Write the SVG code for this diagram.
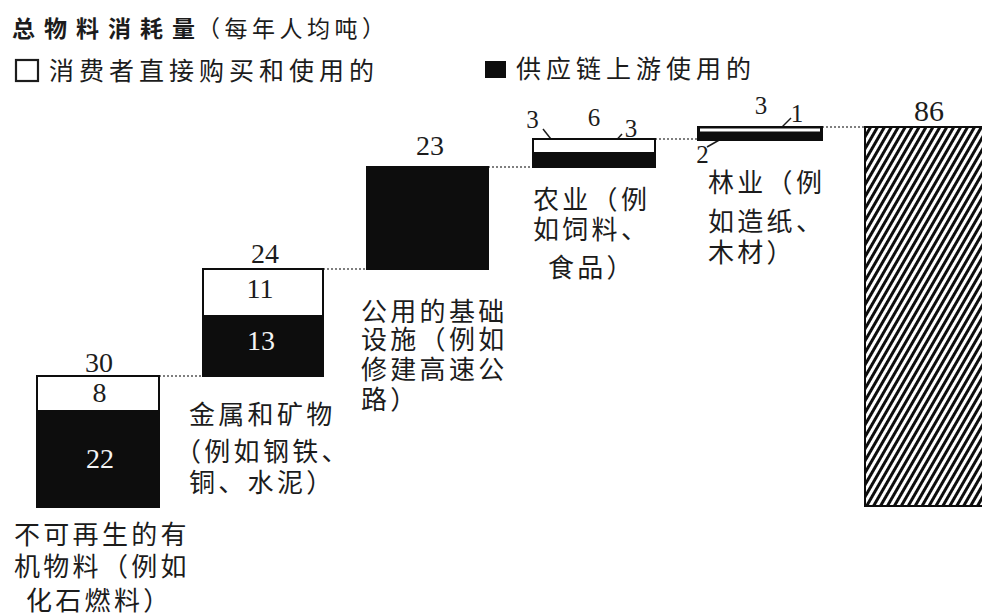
<svg xmlns="http://www.w3.org/2000/svg" width="982" height="616" viewBox="0 0 982 616">
<defs>
<style>
.cj{font-family:"Noto Sans CJK SC","Noto Sans",sans-serif;fill:#1c1c1c}
.lb{font-size:26px;letter-spacing:3.3px}
.num{font-family:"Liberation Serif","Times New Roman",serif;fill:#1c1c1c;text-anchor:middle}
.big{font-size:28px}
.sm{font-size:25px}
.wh{fill:#f4f4f4}
.blk{fill:#0d0d0d;stroke:#0d0d0d;stroke-width:2}
.wht{fill:#ffffff;stroke:#0d0d0d;stroke-width:2}
.dot{stroke:#555;stroke-width:1.3;stroke-dasharray:2 2;fill:none}
.lead{stroke:#1c1c1c;stroke-width:1.5;fill:none}
</style>
<pattern id="hatch" patternUnits="userSpaceOnUse" width="6" height="12" patternTransform="rotate(30)">
<rect x="0" y="0" width="6" height="12" fill="#ffffff"/>
<rect x="0" y="0" width="3" height="12" fill="#0d0d0d"/>
</pattern>
</defs>
<rect width="982" height="616" fill="#ffffff"/>

<g id="title">
<text class="cj" x="12" y="37" font-size="23"><tspan font-weight="bold" letter-spacing="9">总物料消耗量</tspan><tspan x="197" letter-spacing="4.5">（每年人均吨）</tspan></text>
</g>

<g id="legend">
<rect x="16" y="60" width="22" height="21" fill="#fff" stroke="#1c1c1c" stroke-width="2.2"/>
<text class="cj" x="49" y="80" font-size="25" letter-spacing="5">消费者直接购买和使用的</text>
<rect x="485" y="61" width="21" height="17" fill="#0d0d0d"/>
<text class="cj" x="516" y="78" font-size="25" letter-spacing="5">供应链上游使用的</text>
</g>

<g id="connectors">
<line class="dot" x1="159" y1="376" x2="203" y2="376"/>
<line class="dot" x1="323" y1="269" x2="367" y2="269"/>
<line class="dot" x1="488" y1="167" x2="533" y2="167"/>
<line class="dot" x1="655" y1="139" x2="698" y2="139"/>
<line class="dot" x1="822" y1="127" x2="865" y2="127"/>
<line class="lead" x1="543" y1="129" x2="562" y2="153"/>
<line class="lead" x1="611" y1="146" x2="622" y2="134"/>
<line class="lead" x1="780" y1="129" x2="791" y2="118"/>
<line class="lead" x1="707" y1="147" x2="721" y2="139"/>
</g>

<g id="bar-fossil">
<rect class="wht" x="37" y="376" width="122" height="35"/>
<rect class="blk" x="37" y="411" width="122" height="96"/>
<text class="num big" x="99" y="372">30</text>
<text class="num big" x="99.5" y="402">8</text>
<text class="num big wh" x="100" y="468">22</text>
<text class="cj lb" x="14" y="544">不可再生的有</text>
<text class="cj lb" x="14" y="576">机物料（例如</text>
<text class="cj lb" x="26" y="610">化石燃料）</text>
</g>

<g id="bar-metals">
<rect class="wht" x="203" y="269" width="120" height="47"/>
<rect class="blk" x="203" y="316" width="120" height="60"/>
<text class="num big" x="265" y="263">24</text>
<text class="num big" x="260" y="298">11</text>
<text class="num big wh" x="261" y="350">13</text>
<text class="cj lb" x="189" y="424">金属和矿物</text>
<text class="cj lb" x="175" y="461">（例如钢铁、</text>
<text class="cj lb" x="189" y="492">铜、水泥）</text>
</g>

<g id="bar-infra">
<rect class="blk" x="367" y="167" width="121" height="102"/>
<text class="num big" x="430" y="155">23</text>
<text class="cj lb" x="361" y="321">公用的基础</text>
<text class="cj lb" x="361" y="349">设施（例如</text>
<text class="cj lb" x="361" y="379">修建高速公</text>
<text class="cj lb" x="361" y="409">路）</text>
</g>

<g id="bar-agri">
<rect class="wht" x="533" y="139" width="122" height="14"/>
<rect class="blk" x="533" y="153" width="122" height="14"/>
<text class="num sm" x="532.5" y="128">3</text>
<text class="num sm" x="594" y="126">6</text>
<text class="num sm" x="631" y="137">3</text>
<text class="cj lb" x="533" y="209">农业（例</text>
<text class="cj lb" x="533" y="239">如饲料、</text>
<text class="cj lb" x="548" y="277">食品）</text>
</g>

<g id="bar-forest">
<rect class="blk" x="698" y="127" width="124" height="13"/>
<rect x="700" y="128.5" width="120" height="3" fill="#ffffff"/>
<text class="num sm" x="761" y="114">3</text>
<text class="num sm" x="797" y="122">1</text>
<text class="num sm" x="702.5" y="163">2</text>
<text class="cj lb" x="708" y="192">林业（例</text>
<text class="cj lb" x="708" y="231">如造纸、</text>
<text class="cj lb" x="708" y="262">木材）</text>
</g>

<g id="bar-total">
<rect x="865" y="127" width="130" height="379" fill="url(#hatch)" stroke="#0d0d0d" stroke-width="2"/>
<text class="num" x="929" y="121" font-size="30">86</text>
</g>
</svg>
